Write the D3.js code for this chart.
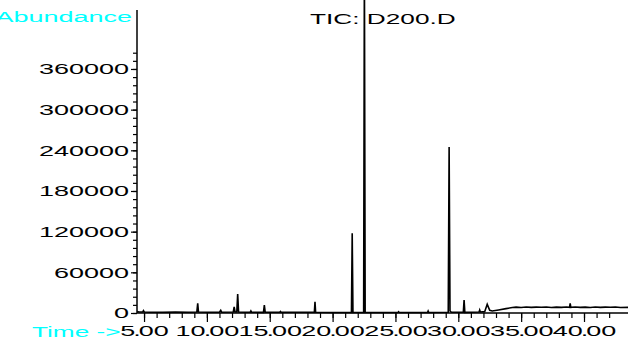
<!DOCTYPE html>
<html>
<head>
<meta charset="utf-8">
<script src="https://cdn.jsdelivr.net/npm/d3@7"></script>
<style>
  body { margin: 0; background: #fff; }
  text { font-family: "Liberation Sans", Arial, sans-serif; }
</style>
</head>
<body>
<script>
// retention time (min) and abundance
var times = [4.45, 4.6, 4.9, 4.95, 5.02, 5.5, 6.5, 7.5, 8.5, 9.2, 9.27, 9.33, 10.0, 11.0, 11.1, 11.17,
    12.1, 12.17, 12.24, 12.38, 12.45, 12.52, 13.0, 13.45, 13.5, 13.55, 14.5, 14.57, 14.64, 15.8, 15.85, 15.9,
    17.5, 18.55, 18.6, 18.65, 20.0, 21.5, 21.56, 21.62, 22.47, 22.53, 22.59, 24.0, 25.2, 25.25, 25.3,
    27.55, 27.6, 27.65, 29.2, 29.27, 29.34, 29.45, 30.4, 30.46, 30.52, 31.65, 31.7, 31.75,
    32.1, 32.3, 32.5, 32.7, 33.2, 33.8, 34.3, 34.6, 35.0, 35.4, 35.8, 36.2, 36.6, 37.0, 37.4, 37.8, 38.2,
    38.6, 38.85, 38.9, 38.95, 39.3, 39.7, 40.1, 40.5, 40.9, 41.3, 41.7, 42.1, 42.5, 42.9, 43.5];
var abundance = [2000, 1500, 1500, 3500, 1500, 1200, 1000, 1300, 1200, 1500, 14300, 1500, 1000, 1200, 4000, 1200,
    1500, 9000, 1500, 1500, 28000, 1500, 1200, 1200, 3000, 1200, 1000, 11800, 1000, 1000, 2200, 1000,
    1000, 1000, 16700, 1000, 800, 800, 117500, 800, 800, 520000, 800, 800, 800, 1800, 800,
    800, 3000, 800, 1000, 244800, 3000, 1000, 1000, 19000, 1000, 1500, 4400, 1500,
    2000, 12800, 4000, 3000, 4500, 6500, 8000, 8600, 8200, 8900, 8300, 8700, 8400, 8800, 8200, 8700, 8300,
    8800, 8400, 14300, 8400, 8800, 8300, 8700, 8200, 8800, 8300, 8700, 8400, 8800, 8200, 8300];
var yTicks = [0, 60000, 120000, 180000, 240000, 300000, 360000];
var xTicks = [5, 10, 15, 20, 25, 30, 35, 40];
var title = "TIC: D200.D";

var width = 628;
var height = 342;
var sx = 1.8;  // stretched lettering on numbers
var sl = 1.75; // stretched lettering on labels

var svg = d3.select("body")
    .append("svg")
    .attr("width", width)
    .attr("height", height);

var x = d3.scaleLinear()
    .domain([4.44, 43.5])
    .range([137, 628]);

var y = d3.scaleLinear()
    .domain([0, 447000])
    .range([313, 10]);

// minor ticks
var yMinor = d3.range(0, 384001, 12000);
var xMinor = d3.range(5, 43, 1);

svg.append("g")
    .attr("transform", "translate(137,0)")
    .call(d3.axisLeft(y).tickValues(yMinor).tickSize(4).tickFormat(""))
    .call(g => g.select(".domain").remove());

svg.append("g")
    .attr("transform", "translate(0,313)")
    .call(d3.axisBottom(x).tickValues(xMinor).tickSize(5).tickFormat(""))
    .call(g => g.select(".domain").remove());

var leftAxis = d3.axisLeft(y).tickValues(yTicks).tickSize(6).tickFormat(d3.format("d"));
svg.append("g")
    .attr("class", "left axis")
    .attr("transform", "translate(137,0)")
    .call(leftAxis)
    .call(g => g.select(".domain").remove())
    .selectAll("text")
    .attr("font-size", "15px")
    .attr("font-family", "Liberation Sans, Arial, sans-serif")
    .attr("x", -8 / sx)
    .attr("transform", "scale(" + sx + ",1)");

var fmt = d3.format(".2f");
var bottomAxis = d3.axisBottom(x).tickValues(xTicks).tickSize(9).tickFormat(fmt);
svg.append("g")
    .attr("class", "bottom axis")
    .attr("transform", "translate(0,313)")
    .call(bottomAxis)
    .call(g => g.select(".domain").remove())
    .selectAll("text")
    .attr("font-size", "15px")
    .attr("font-family", "Liberation Sans, Arial, sans-serif")
    .attr("y", 12)
    .attr("transform", "scale(" + sx + ",1)")
    .each(function(d) {
        // the period sits tight between the digits
        var parts = fmt(d).split(".");
        var t = d3.select(this).text("");
        t.append("tspan").text(parts[0]);
        t.append("tspan").attr("dx", -1.1).text(".");
        t.append("tspan").attr("dx", -1.1).text(parts[1]);
    });

svg.selectAll(".tick line").attr("stroke", "#000").attr("stroke-width", 1.2);

// axis lines
svg.append("line")
    .attr("x1", 137).attr("x2", 137)
    .attr("y1", 10).attr("y2", 313)
    .attr("stroke", "#000").attr("stroke-width", 1.5);
svg.append("line")
    .attr("x1", 137).attr("x2", 628)
    .attr("y1", 313).attr("y2", 313)
    .attr("stroke", "#000").attr("stroke-width", 1.5);

// trace
var pts = times.map((t, i) => [t, abundance[i]]);
var line = d3.line()
    .x(d => x(d[0]))
    .y(d => y(d[1]));
svg.append("path")
    .datum(pts)
    .attr("d", line)
    .attr("fill", "none")
    .attr("stroke", "#000")
    .attr("stroke-width", 1.6);

// labels
svg.append("text")
    .attr("transform", "translate(132,22) scale(" + sx + ",1)")
    .attr("text-anchor", "end")
    .attr("font-size", "15px")
    .style("fill", "#00ffff")
    .text("Abundance");

svg.append("text")
    .attr("transform", "translate(32,337) scale(" + sl + ",1)")
    .attr("font-size", "15px")
    .style("fill", "#00ffff")
    .text("Time ->");

svg.append("text")
    .attr("transform", "translate(310,23.5) scale(" + sl + ",1)")
    .attr("font-size", "15px")
    .style("fill", "#000")
    .text(title);
</script>
</body>
</html>
